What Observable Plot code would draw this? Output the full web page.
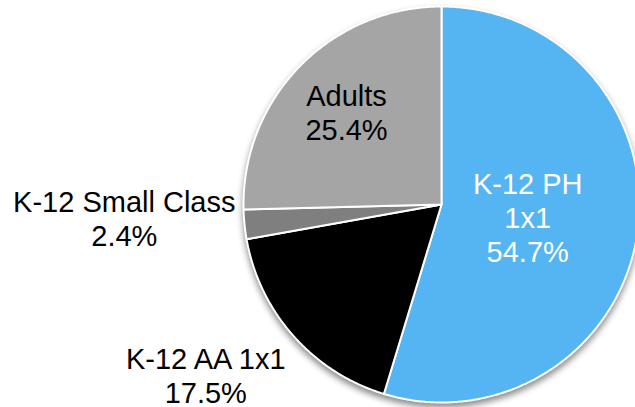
<!DOCTYPE html>
<html>
<head>
<meta charset="utf-8">
<script src="https://cdn.jsdelivr.net/npm/d3@7"></script>
<script src="https://cdn.jsdelivr.net/npm/@observablehq/plot@0.6"></script>
<style>
  html, body { margin: 0; padding: 0; background: #fff; }
  #chart { width: 635px; height: 407px; }
</style>
</head>
<body>
<div id="chart"></div>
<script>
// Data
const categories = ["K-12 PH\n1x1", "K-12 AA 1x1", "K-12 Small Class", "Adults"];
const shares = [54.7, 17.5, 2.4, 25.4];
const valueLabels = ["54.7%", "17.5%", "2.4%", "25.4%"];
const colors = ["#55B4F2", "#000000", "#7F7F7F", "#A5A5A5"];
const textColors = ["#ffffff", "#000000", "#000000", "#000000"];

// Label layout (radius as fraction of pie radius, pixel nudges)
const labelRadius = [0.44, 1.45, 1.6, 0.67];
const labelDx = [0, -21, -2, 0];
const labelDy = [0, -20, -18, 0];

const pie = d3.pie().sort(null).value(d => d.value);
const rows = categories.map((c, i) => ({name: c, value: shares[i], idx: i}));
const arcs = pie(rows);

// Build slice outlines in unit coordinates (clockwise from 12 o'clock)
const pts = [];
for (const a of arcs) {
  const name = a.data.name;
  pts.push({name, x: 0, y: 0});
  const n = Math.max(4, Math.ceil((a.endAngle - a.startAngle) / 0.01));
  for (let k = 0; k <= n; k++) {
    const t = a.startAngle + (a.endAngle - a.startAngle) * k / n;
    pts.push({name, x: Math.sin(t), y: Math.cos(t)});
  }
}

const labels = arcs.map((a, i) => {
  const m = (a.startAngle + a.endAngle) / 2;
  return {
    text: categories[i] + "\n" + valueLabels[i],
    x: labelRadius[i] * Math.sin(m),
    y: labelRadius[i] * Math.cos(m),
    color: textColors[i],
    dx: labelDx[i],
    dy: labelDy[i]
  };
});

const chart = Plot.plot({
  width: 635,
  height: 407,
  margin: 0,
  style: {fontFamily: "'Liberation Sans', Arial, sans-serif", background: "#fff"},
  x: {domain: [-1, 1], range: [243, 639], axis: null},
  y: {domain: [-1, 1], range: [402, 6], axis: null},
  color: {domain: categories, range: colors},
  marks: [
    Plot.line(pts, {
      x: "x", y: "y", z: "name", fill: "name",
      stroke: "white", strokeWidth: 2, strokeLinejoin: "round",
      curve: "linear-closed"
    }),
    ...labels.map(l => Plot.text([l], {
      x: "x", y: "y", text: "text",
      fill: l.color, fontSize: 29, lineHeight: 1.18,
      textAnchor: "middle", lineAnchor: "middle",
      dx: l.dx, dy: l.dy
    }))
  ]
});

const lineG = chart.querySelector('g[aria-label="line"]');
if (lineG) lineG.style.filter = "drop-shadow(0px 4px 3px rgba(0,0,0,0.45))";
document.getElementById("chart").appendChild(chart);
</script>
</body>
</html>
